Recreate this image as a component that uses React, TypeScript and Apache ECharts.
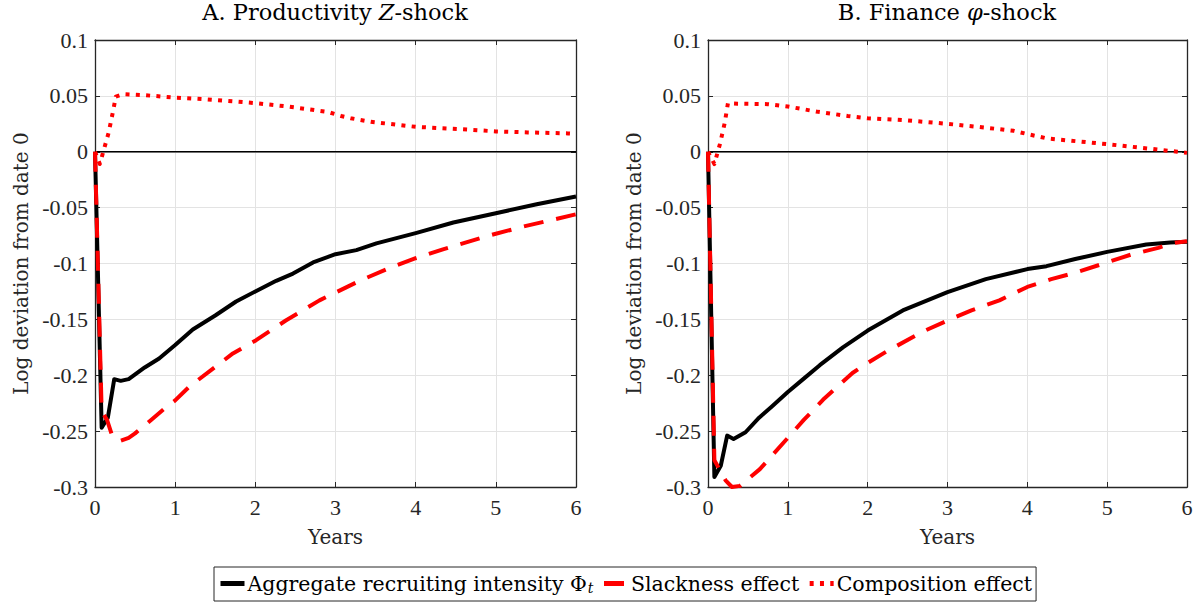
import * as echarts from 'echarts';
import { useEffect, useRef } from 'react';

// tick labels
const xTicks = ['0', '1', '2', '3', '4', '5', '6'];
const yTicks = ['-0.3', '-0.25', '-0.2', '-0.15', '-0.1', '-0.05', '0', '0.05', '0.1'];

const seriesNames = [
  'Aggregate recruiting intensity Φ{sub|t}',
  'Slackness effect',
  'Composition effect',
];

// Panel A: productivity Z-shock
const aggZTime = [0, 0.083, 0.16, 0.24, 0.32, 0.42, 0.62, 0.8, 1.0, 1.22, 1.5, 1.76, 2.0, 2.26, 2.47, 2.72, 3.0, 3.26, 3.51, 4.0, 4.47, 5.0, 5.51, 6.0];
const aggZ = [0, -0.247, -0.238, -0.2035, -0.205, -0.2035, -0.193, -0.185, -0.173, -0.159, -0.1465, -0.134, -0.125, -0.1155, -0.109, -0.099, -0.0917, -0.088, -0.082, -0.0728, -0.0633, -0.055, -0.047, -0.04];
const slackZTime = [0, 0.083, 0.15, 0.22, 0.32, 0.42, 0.5, 0.7, 0.88, 1.0, 1.18, 1.51, 1.72, 2.01, 2.38, 2.8, 3.0, 3.3, 3.71, 4.0, 4.34, 4.85, 5.0, 5.34, 6.0];
const slackZ = [0, -0.232, -0.24, -0.2555, -0.2585, -0.256, -0.252, -0.24, -0.229, -0.2225, -0.21, -0.192, -0.1805, -0.1686, -0.151, -0.133, -0.126, -0.1155, -0.103, -0.0953, -0.0873, -0.0763, -0.0734, -0.067, -0.056];
const compZTime = [0, 0.06, 0.17, 0.23, 0.26, 0.35, 0.62, 1.0, 1.36, 1.74, 2.0, 2.4, 2.9, 3.07, 3.19, 3.44, 4.0, 4.57, 5.0, 5.4, 5.9, 6.0];
const compZ = [0, -0.011, 0.017, 0.038, 0.0494, 0.0515, 0.0506, 0.0485, 0.047, 0.045, 0.0435, 0.0405, 0.0357, 0.032, 0.03, 0.0268, 0.0223, 0.0202, 0.0182, 0.0173, 0.0164, 0.016];

// Panel B: finance phi-shock
const aggPhiTime = [0, 0.08, 0.16, 0.24, 0.32, 0.47, 0.64, 0.8, 1.0, 1.2, 1.4, 1.69, 2.0, 2.44, 3.0, 3.48, 4.0, 4.24, 4.6, 5.0, 5.49, 5.79, 6.0];
const aggPhi = [0, -0.291, -0.281, -0.254, -0.257, -0.251, -0.238, -0.228, -0.215, -0.203, -0.191, -0.175, -0.16, -0.142, -0.1257, -0.114, -0.105, -0.1024, -0.096, -0.0896, -0.083, -0.0812, -0.0806];
const slackPhiTime = [0, 0.08, 0.15, 0.22, 0.3, 0.4, 0.5, 0.65, 0.8, 1.0, 1.2, 1.44, 1.81, 2.0, 2.23, 2.69, 3.0, 3.3, 3.65, 4.0, 4.3, 4.61, 5.0, 5.3, 5.64, 5.8, 6.0];
const slackPhi = [0, -0.276, -0.285, -0.294, -0.3, -0.299, -0.293, -0.284, -0.272, -0.256, -0.24, -0.222, -0.198, -0.189, -0.179, -0.161, -0.151, -0.142, -0.133, -0.121, -0.114, -0.108, -0.099, -0.092, -0.086, -0.082, -0.08];
const compPhiTime = [0, 0.08, 0.15, 0.21, 0.25, 0.37, 0.75, 1.0, 1.38, 1.75, 2.0, 2.46, 3.0, 3.46, 3.83, 4.0, 4.25, 5.0, 5.5, 5.88, 6.0];
const compPhi = [0, -0.011, 0.007, 0.026, 0.0435, 0.043, 0.0426, 0.0405, 0.0357, 0.032, 0.03, 0.0283, 0.025, 0.0217, 0.0187, 0.0158, 0.0119, 0.0068, 0.003, 0, -0.001];

// ticks in Liberation Serif (digit widths match), words in DejaVu Serif (closer to CM widths)
const TICK_FONT = 'Liberation Serif';
const TEXT_FONT = 'DejaVu Serif';
const AXIS_COLOR = '#262626';

const pairs = (t: number[], v: number[]) => t.map((x, i) => [x, v[i]]);

const App = () => {
  const chartRef = useRef<HTMLDivElement | null>(null);
  useEffect(() => {
    if (!chartRef.current) return;
    const myChart = echarts.init(chartRef.current, null, { renderer: 'svg' });

    const grids = [
      { left: 95, top: 40, width: 481, height: 447 },
      { left: 708, top: 40, width: 479, height: 447 },
    ];

    const xAxes: any[] = [];
    const yAxes: any[] = [];
    grids.forEach((_, g) => {
      xAxes.push({
        type: 'value', gridIndex: g, min: 0, max: 6, interval: 1, position: 'bottom',
        name: 'Years', nameLocation: 'middle', nameGap: 40,
        nameTextStyle: { fontFamily: TEXT_FONT, fontSize: 20, color: AXIS_COLOR },
        axisLine: { onZero: false, lineStyle: { color: AXIS_COLOR, width: 1.3 } },
        axisTick: { inside: true, length: 5, lineStyle: { color: AXIS_COLOR } },
        axisLabel: {
          margin: 9, fontFamily: TICK_FONT, fontSize: 22, color: AXIS_COLOR,
          formatter: (v: number) => xTicks[Math.round(v)] ?? '',
        },
        splitLine: { show: true, lineStyle: { color: '#e3e3e3', width: 1 } },
      });
      xAxes.push({
        type: 'value', gridIndex: g, min: 0, max: 6, interval: 1, position: 'top',
        axisLine: { onZero: false, lineStyle: { color: AXIS_COLOR, width: 1.3 } },
        axisTick: { inside: true, length: 5, lineStyle: { color: AXIS_COLOR } },
        axisLabel: { show: false },
        splitLine: { show: false },
      });
      yAxes.push({
        type: 'value', gridIndex: g, min: -0.3, max: 0.1, interval: 0.05, position: 'left',
        name: 'Log deviation from date 0', nameLocation: 'middle', nameGap: 64,
        nameTextStyle: { fontFamily: TEXT_FONT, fontSize: 20, color: AXIS_COLOR },
        axisLine: { onZero: false, lineStyle: { color: AXIS_COLOR, width: 1.3 } },
        axisTick: { inside: true, length: 5, lineStyle: { color: AXIS_COLOR } },
        axisLabel: {
          margin: 7, fontFamily: TICK_FONT, fontSize: 22, color: AXIS_COLOR,
          formatter: (v: number) => yTicks[Math.round((v + 0.3) / 0.05)] ?? '',
        },
        splitLine: { show: true, lineStyle: { color: '#e3e3e3', width: 1 } },
      });
      yAxes.push({
        type: 'value', gridIndex: g, min: -0.3, max: 0.1, interval: 0.05, position: 'right',
        axisLine: { onZero: false, lineStyle: { color: AXIS_COLOR, width: 1.3 } },
        axisTick: { inside: true, length: 5, lineStyle: { color: AXIS_COLOR } },
        axisLabel: { show: false },
        splitLine: { show: false },
      });
    });

    const panelData = [
      [pairs(aggZTime, aggZ), pairs(slackZTime, slackZ), pairs(compZTime, compZ)],
      [pairs(aggPhiTime, aggPhi), pairs(slackPhiTime, slackPhi), pairs(compPhiTime, compPhi)],
    ];
    const styles = [
      { color: '#000000', width: 4, type: 'solid' },
      { color: '#ff0000', width: 4, type: [20, 13] },
      { color: '#ff0000', width: 4, type: [4, 6.3] },
    ];

    const series: any[] = [];
    panelData.forEach((data, g) => {
      // zero reference line
      series.push({
        type: 'line', xAxisIndex: g * 2, yAxisIndex: g * 2, silent: true,
        data: [[0, 0], [6, 0]], symbol: 'none',
        lineStyle: { color: '#000', width: 1.6 },
      });
      data.forEach((d, k) => {
        series.push({
          name: seriesNames[k], type: 'line', xAxisIndex: g * 2, yAxisIndex: g * 2,
          data: d, symbol: 'none', showSymbol: false,
          lineStyle: { ...styles[k], cap: 'butt', join: 'round' },
          itemStyle: { color: styles[k].color },
        });
      });
    });

    const titleStyle = {
      fontFamily: TEXT_FONT, fontSize: 22.5, color: '#000', fontWeight: 'normal' as const,
      rich: { i: { fontFamily: TEXT_FONT, fontSize: 22.5, fontStyle: 'italic' as const, color: '#000' } },
    };

    const option: any = {
      animation: false,
      backgroundColor: '#ffffff',
      title: [
        { text: 'A. Productivity {i|Z}-shock', left: 335, top: 0, padding: 0, textAlign: 'center', textStyle: titleStyle },
        { text: 'B. Finance {i|φ}-shock', left: 947, top: 0, padding: 0, textAlign: 'center', textStyle: titleStyle },
      ],
      grid: grids,
      xAxis: xAxes,
      yAxis: yAxes,
      legend: {
        data: seriesNames,
        left: 214, top: 567,
        padding: [6, 4, 6, 4],
        itemGap: 8, itemWidth: 24, itemHeight: 12,
        borderColor: '#262626', borderWidth: 1, backgroundColor: '#fff',
        itemStyle: { opacity: 0 },
        lineStyle: { width: 5 },
        textStyle: {
          fontFamily: TEXT_FONT, fontSize: 20.5, color: '#000', padding: [0, 0, 0, -2],
          rich: { sub: { fontFamily: TEXT_FONT, fontSize: 14, fontStyle: 'italic', color: '#000', padding: [9, 0, 0, 1] } },
        },
      },
      series,
    };

    myChart.setOption(option);
    return () => {
      myChart.dispose();
    };
  }, []);
  return <div ref={chartRef} style={{ position: 'absolute', left: 0, top: 0, width: '1200px', height: '605px' }}></div>;
};

export default App;
